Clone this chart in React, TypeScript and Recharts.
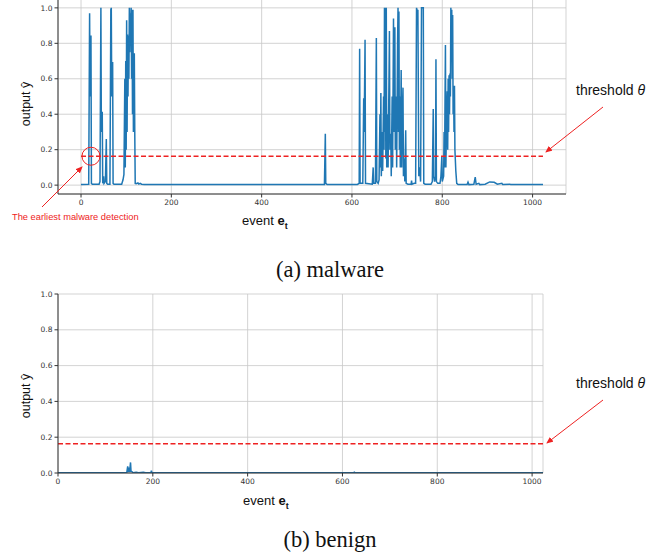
import { LineChart, Line, XAxis, YAxis, CartesianGrid, ReferenceDot } from "recharts";

// --- data (key points of each trace) ---
const malwareEvents = [
  0, 17, 19, 20, 21, 22, 23, 25, 40, 42, 44, 45, 46, 47, 48, 50, 51, 54, 56, 57, 59,
  64, 66, 67, 68, 69, 70, 71, 73, 90, 93, 95, 97, 98, 99, 100, 101, 102, 103, 104, 105,
  106, 107, 108, 109, 110, 111, 112, 113, 114, 115, 116, 117, 118, 119, 120, 122, 126,
  128, 131, 134, 140, 539, 541, 542, 545, 612, 616, 617, 618, 624, 626, 627, 629, 630,
  645, 647, 648, 652, 654, 655, 658, 660, 662, 663, 664, 665, 667, 668, 670, 671, 672,
  673, 674, 675, 676, 677, 679, 680, 682, 683, 684, 686, 687, 689, 690, 692, 693, 694,
  695, 696, 698, 699, 701, 702, 703, 704, 705, 706, 707, 709, 710, 711, 713, 714, 716,
  717, 719, 720, 724, 731, 732, 733, 738, 741, 743, 745, 746, 748, 750, 752, 754, 755,
  757, 758, 759, 762, 775, 778, 780, 781, 783, 785, 786, 787, 790, 795, 797, 799, 800,
  803, 804, 805, 807, 808, 809, 811, 812, 813, 814, 815, 816, 817, 818, 819, 820, 821,
  822, 823, 824, 825, 826, 827, 828, 830, 832, 835, 855, 857, 859, 870, 873, 875, 881,
  883, 895, 905, 915, 922, 932, 934, 950, 952, 1023,
];
const malwareOutputs = [
  0.003, 0.005, 0.97, 0.5, 0.84, 0.84, 0.01, 0.005, 0.005, 0.02, 1.0, 0.3, 0.41, 0.41, 0.01, 0.05, 0.01, 0.02, 0.26, 0.01, 0.005,
  0.005, 0.99, 1.0, 0.5, 0.69, 0.69, 0.01, 0.005, 0.005, 0.03, 0.06, 0.6, 0.1, 0.7, 0.2, 0.93, 0.3, 0.85, 0.5, 0.84,
  0.6, 1.0, 0.75, 0.97, 0.89, 1.0, 0.6, 0.99, 0.4, 0.99, 0.3, 0.74, 0.74, 0.3, 0.01, 0.008, 0.012,
  0.006, 0.01, 0.005, 0.003, 0.003, 0.29, 0.01, 0.003, 0.004, 0.01, 0.77, 0.01, 0.01, 0.49, 0.3, 0.82, 0.01,
  0.005, 0.1, 0.01, 0.01, 0.83, 0.02, 0.01, 0.03, 0.4, 0.1, 0.52, 0.05, 0.3, 0.08, 0.5, 0.2, 1.0,
  0.3, 1.0, 0.15, 1.0, 0.1, 0.4, 0.1, 0.6, 0.87, 0.2, 0.29, 0.05, 0.5, 0.1, 0.94, 0.3, 0.6,
  0.89, 0.2, 0.5, 0.1, 0.8, 1.0, 0.3, 0.98, 0.2, 0.5, 0.1, 0.65, 0.1, 0.3, 0.55, 0.05, 0.15,
  0.02, 0.31, 0.01, 0.005, 0.005, 0.025, 0.005, 0.01, 0.01, 1.0, 0.98, 0.99, 0.05, 0.1, 0.02, 1.0, 1.0,
  1.0, 1.0, 0.01, 0.005, 0.005, 0.02, 0.43, 0.05, 0.02, 0.05, 0.71, 0.02, 0.01, 0.01, 0.05, 0.16, 0.02,
  0.05, 0.3, 0.1, 0.79, 0.1, 0.3, 0.53, 0.2, 0.6, 0.3, 0.62, 0.4, 0.63, 0.5, 1.0, 0.7, 0.99,
  0.6, 0.96, 0.4, 0.56, 0.3, 0.56, 0.2, 0.08, 0.01, 0.003, 0.003, 0.017, 0.003, 0.005, 0.045, 0.005, 0.01,
  0.003, 0.005, 0.018, 0.016, 0.005, 0.01, 0.003, 0.005, 0.003, 0.003,
];

const benignEvents = [0, 145, 147, 148, 150, 151, 153, 154, 156, 158, 165, 170, 180, 185, 196, 197, 198, 623, 625, 627, 1023];
const benignOutputs = [0.001, 0.001, 0.037, 0.005, 0.03, 0.005, 0.059, 0.01, 0.008, 0.002, 0.004, 0.002, 0.004, 0.002, 0.002, 0.013, 0.002, 0.001, 0.005, 0.001, 0.001];

const THRESHOLD = 0.163;
const LAST_EVENT = 1023;
const xTicks = [0, 200, 400, 600, 800, 1000];
const yTicks = [0, 0.2, 0.4, 0.6, 0.8, 1.0];

const BLUE = "#1f77b4";
const RED = "#ee2222";
const SPINE = "#333";

const toRows = (xs: number[], ys: number[]) => xs.map((e, i) => ({ event: e, output: ys[i] }));
const malwareRows = toRows(malwareEvents, malwareOutputs);
const benignRows = toRows(benignEvents, benignOutputs);
const thresholdRows = toRows([0, LAST_EVENT], [THRESHOLD, THRESHOLD]);

const tickStyle = { fontSize: 7.5, fill: "#333", fontFamily: "DejaVu Sans" };

function Panel({
  rows, xDomain, yDomain, width, height, margin, circle,
}: {
  rows: { event: number; output: number }[];
  xDomain: [number, number];
  yDomain: [number, number];
  width: number;
  height: number;
  margin: { top: number; right: number; bottom: number; left: number };
  circle?: boolean;
}) {
  return (
    <LineChart width={width} height={height} data={rows} margin={margin}>
      <CartesianGrid stroke="#c8c8c8" strokeWidth={0.8} />
      <XAxis
        dataKey="event" type="number" domain={xDomain} ticks={xTicks} allowDataOverflow
        tick={tickStyle} tickSize={3.5} tickMargin={2} height={20}
        axisLine={{ stroke: SPINE }} tickLine={{ stroke: SPINE }}
      />
      <XAxis xAxisId="top" orientation="top" type="number" domain={xDomain} allowDataOverflow
        tick={false} tickLine={false} height={0} axisLine={{ stroke: SPINE }} />
      <YAxis
        type="number" domain={yDomain} ticks={yTicks} allowDataOverflow width={58}
        tickFormatter={(v: number) => v.toFixed(1)}
        tick={tickStyle} tickSize={3.5} tickMargin={2}
        axisLine={{ stroke: SPINE }} tickLine={{ stroke: SPINE }}
      />
      <YAxis yAxisId="right" orientation="right" type="number" domain={yDomain} allowDataOverflow
        tick={false} tickLine={false} width={0} axisLine={{ stroke: SPINE }} />
      <Line dataKey="output" type="linear" stroke={BLUE} strokeWidth={1.5} dot={false}
        isAnimationActive={false} />
      <Line data={thresholdRows} dataKey="output" type="linear" stroke={RED} strokeWidth={1.5}
        strokeDasharray="5 2.5" dot={false} isAnimationActive={false} />
      {circle && (
        <ReferenceDot x={22} y={THRESHOLD} r={9} fill="none" stroke={RED} strokeWidth={1} />
      )}
    </LineChart>
  );
}

function EventLabel({ x, y }: { x: number; y: number }) {
  return (
    <text x={x} y={y} fontSize={13} fontFamily="Liberation Sans, Arial" fill="#111">
      event <tspan fontWeight="bold">e</tspan>
      <tspan fontSize={9} fontWeight="bold" dy={4}>t</tspan>
    </text>
  );
}

function OutputLabel({ cx, cy }: { cx: number; cy: number }) {
  return (
    <text x={cx} y={cy} fontSize={12.5} fontFamily="Liberation Sans, Arial" fill="#111"
      textAnchor="middle" transform={`rotate(-90 ${cx} ${cy})`}>
      output ŷ
    </text>
  );
}

function Threshold({ y }: { y: number }) {
  return (
    <text x={576} y={y} fontSize={14} fontFamily="Liberation Sans, Arial" fill="#111">
      threshold <tspan fontStyle="italic">θ</tspan>
    </text>
  );
}

export default function App() {
  return (
    <div style={{ position: "absolute", left: 0, top: 0, width: 661, height: 560, overflow: "hidden", background: "#fff" }}>
      <div style={{ position: "absolute", left: 0, top: -20 }}>
        <Panel rows={malwareRows} xDomain={[-51, 1074]} yDomain={[-0.05, 1.05]}
          width={661} height={234} margin={{ top: 19, right: 95, bottom: 0, left: 0 }} circle />
      </div>
      <div style={{ position: "absolute", left: 0, top: 280 }}>
        <Panel rows={benignRows} xDomain={[0, LAST_EVENT]} yDomain={[0, 1]}
          width={661} height={213} margin={{ top: 14, right: 118, bottom: 0, left: 0 }} />
      </div>
      <svg width={661} height={560} style={{ position: "absolute", left: 0, top: 0, pointerEvents: "none" }}>
        <defs>
          <marker id="head" markerWidth={7} markerHeight={6} refX={6} refY={3} orient="auto" markerUnits="userSpaceOnUse">
            <path d="M0,0 L7,3 L0,6 z" fill={RED} />
          </marker>
        </defs>
        <OutputLabel cx={30} cy={104} />
        <OutputLabel cx={30} cy={396} />
        <EventLabel x={242} y={225} />
        <EventLabel x={243} y={505} />
        <Threshold y={95} />
        <Threshold y={388} />
        <line x1={603} y1={107} x2={546} y2={152} stroke={RED} strokeWidth={1} markerEnd="url(#head)" />
        <line x1={603} y1={400} x2={547} y2={443} stroke={RED} strokeWidth={1} markerEnd="url(#head)" />
        <line x1={42} y1={207} x2={82} y2={167} stroke={RED} strokeWidth={1} markerEnd="url(#head)" />
        <text x={12} y={220} fontSize={9.3} fontFamily="Liberation Sans, Arial" fill={RED}>
          The earliest malware detection
        </text>
        <text x={330} y={277} fontSize={22.5} fontFamily="Liberation Serif, Times New Roman" fill="#111" textAnchor="middle">
          (a) malware
        </text>
        <text x={330} y={547} fontSize={22.5} fontFamily="Liberation Serif, Times New Roman" fill="#111" textAnchor="middle">
          (b) benign
        </text>
      </svg>
    </div>
  );
}
